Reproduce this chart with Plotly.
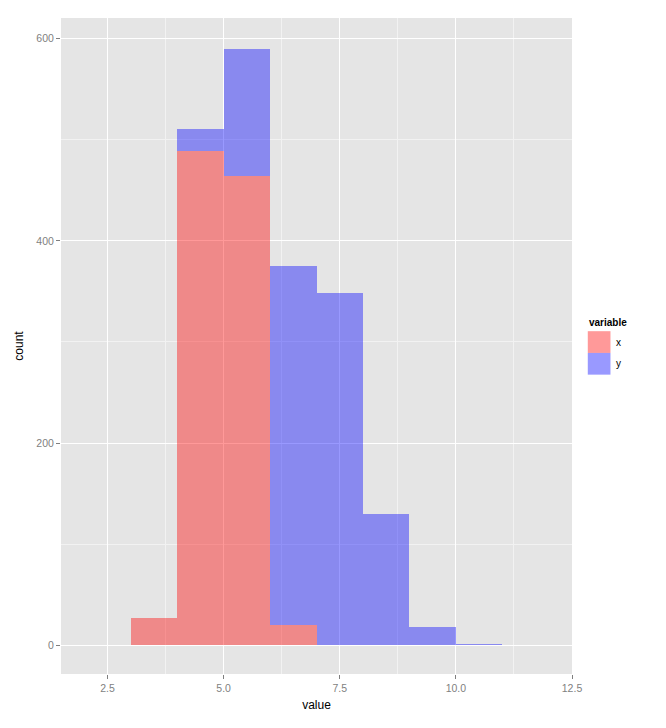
import plotly.graph_objects as go

# bins of width 1, identified by their centres
bin_centers = [3.5, 4.5, 5.5, 6.5, 7.5, 8.5, 9.5, 10.5]
x_counts = [27, 489, 464, 20, 0, 0, 0, 0]
y_counts = [0, 22, 126, 355, 348, 130, 18, 1]
series_names = ["x", "y"]
series_colors = ["rgba(255,0,0,0.4)", "rgba(0,0,255,0.4)"]

x_ticks = [2.5, 5.0, 7.5, 10.0, 12.5]
y_ticks = [0, 200, 400, 600]

fig = go.Figure()
for name, counts, col in zip(series_names, [x_counts, y_counts], series_colors):
    fig.add_trace(go.Bar(x=bin_centers, y=counts, width=1, name=name,
                         marker=dict(color=col, line=dict(width=0)),
                         showlegend=False))

axis_common = dict(
    showline=False, zeroline=False,
    gridcolor="white", gridwidth=1.1,
    ticks="outside", ticklen=4, tickcolor="#7F7F7F", tickwidth=1,
    tickfont=dict(family="Liberation Sans, Arial", size=10.5, color="#7F7F7F"),
    title_font=dict(family="Liberation Sans, Arial", size=12, color="black"),
)

W, H = 650, 712
L, R, T, B = 46, 86, 10, 38
pw, ph = W - L - R, H - T - B

fig.update_layout(
    width=W, height=H,
    margin=dict(l=L, r=R, t=T, b=B),
    paper_bgcolor="white", plot_bgcolor="#E5E5E5",
    barmode="stack", bargap=0,
    xaxis=dict(range=[1.5, 12.5], tickvals=x_ticks,
               ticktext=[f"{v:.1f}" for v in x_ticks],
               title=dict(text="value", standoff=8),
               minor=dict(tickvals=[1.25, 3.75, 6.25, 8.75, 11.25], showgrid=True,
                          gridcolor="#F2F2F2", gridwidth=0.6, ticks=""),
               **axis_common),
    yaxis=dict(range=[-28.5, 620.5], tickvals=y_ticks,
               title=dict(text="count", standoff=10),
               minor=dict(tickvals=[100, 300, 500], showgrid=True,
                          gridcolor="#F2F2F2", gridwidth=0.6, ticks=""),
               **axis_common),
    font=dict(family="Liberation Sans, Arial"),
)

# custom ggplot-style legend
lx0 = 1 + 16 / pw
key_w = 23 / pw
key_h = 22 / ph
top = 1 - (335 - 18) / ph
fig.add_annotation(xref="paper", yref="paper", x=lx0 - 0.002, y=top + 0.002,
                   text="<b>variable</b>", showarrow=False, xanchor="left", yanchor="bottom",
                   font=dict(size=10, color="black"))
legend_cols = ["rgba(255,0,0,0.4)", "rgba(0,0,255,0.4)"]
for i, (name, col) in enumerate(zip(series_names, legend_cols)):
    y1 = top - i * key_h
    y0 = y1 - key_h
    fig.add_shape(type="rect", xref="paper", yref="paper",
                  x0=lx0, x1=lx0 + key_w, y0=y0, y1=y1,
                  fillcolor=col, line=dict(width=0))
    fig.add_annotation(xref="paper", yref="paper", x=lx0 + key_w + 0.006, y=(y0 + y1) / 2,
                       text=name, showarrow=False, xanchor="left", yanchor="middle",
                       font=dict(size=10, color="black"))

fig.write_html("out.html")
